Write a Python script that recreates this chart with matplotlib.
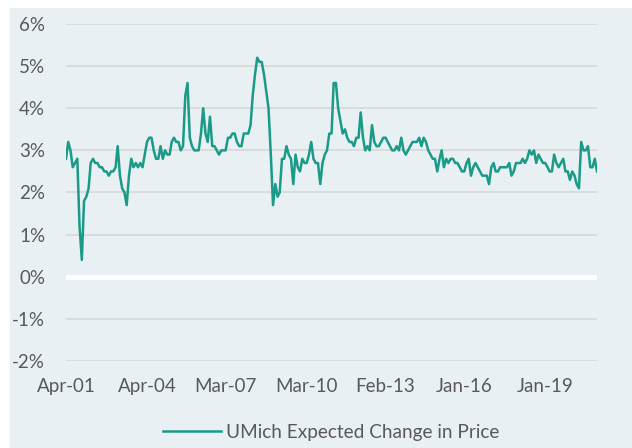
import numpy as np
import pandas as pd
import matplotlib
matplotlib.use("Agg")
import matplotlib.pyplot as plt
from matplotlib.patches import Rectangle

# monthly series, Apr-2001 .. Dec-2020
start_month = "2001-04-01"
expected_change = [
    2.8, 3.2, 3.0, 2.6, 2.7, 2.8, 1.2, 0.4, 1.8, 1.9,
    2.1, 2.7, 2.8, 2.7, 2.7, 2.6, 2.6, 2.5, 2.5, 2.4,
    2.5, 2.5, 2.6, 3.1, 2.4, 2.1, 2.0, 1.7, 2.4, 2.8,
    2.6, 2.7, 2.6, 2.7, 2.6, 2.9, 3.2, 3.3, 3.3, 3.0,
    2.8, 2.8, 3.1, 2.8, 3.0, 2.9, 2.9, 3.2, 3.3, 3.2,
    3.2, 3.0, 3.1, 4.3, 4.6, 3.3, 3.1, 3.0, 3.0, 3.0,
    3.4, 4.0, 3.4, 3.2, 3.8, 3.1, 3.1, 3.0, 2.9, 3.0,
    3.0, 3.0, 3.3, 3.3, 3.4, 3.4, 3.2, 3.1, 3.1, 3.4,
    3.4, 3.4, 3.6, 4.3, 4.8, 5.2, 5.1, 5.1, 4.8, 4.4,
    4.0, 2.9, 1.7, 2.2, 1.9, 2.0, 2.8, 2.8, 3.1, 2.9,
    2.8, 2.2, 2.9, 2.6, 2.5, 2.8, 2.7, 2.7, 2.9, 3.2,
    2.8, 2.7, 2.7, 2.2, 2.7, 2.9, 3.0, 3.4, 3.4, 4.6,
    4.6, 4.0, 3.7, 3.4, 3.5, 3.3, 3.2, 3.2, 3.1, 3.3,
    3.3, 3.9, 3.3, 3.0, 3.1, 3.0, 3.6, 3.2, 3.1, 3.1,
    3.2, 3.3, 3.3, 3.2, 3.1, 3.0, 3.0, 3.1, 3.0, 3.3,
    3.0, 2.9, 3.0, 3.1, 3.2, 3.2, 3.2, 3.3, 3.1, 3.3,
    3.2, 3.0, 2.9, 2.8, 2.8, 2.5, 2.8, 3.0, 2.6, 2.8,
    2.7, 2.8, 2.8, 2.7, 2.7, 2.6, 2.5, 2.5, 2.7, 2.8,
    2.4, 2.6, 2.7, 2.6, 2.5, 2.4, 2.4, 2.4, 2.2, 2.6,
    2.7, 2.5, 2.5, 2.6, 2.6, 2.6, 2.6, 2.7, 2.4, 2.5,
    2.7, 2.7, 2.7, 2.8, 2.7, 2.8, 3.0, 2.9, 3.0, 2.7,
    2.9, 2.8, 2.7, 2.7, 2.6, 2.5, 2.5, 2.9, 2.7, 2.6,
    2.7, 2.8, 2.5, 2.5, 2.3, 2.5, 2.4, 2.2, 2.1, 3.2,
    3.0, 3.0, 3.1, 2.6, 2.6, 2.8, 2.5,
]
series_name = "UMich Expected Change in Price"

tick_dates = ["2001-04-01", "2004-04-01", "2007-03-01", "2010-03-01",
              "2013-02-01", "2016-01-01", "2019-01-01"]
tick_labels = ["Apr-01", "Apr-04", "Mar-07", "Mar-10", "Feb-13", "Jan-16", "Jan-19"]
y_ticks = [-2, -1, 0, 1, 2, 3, 4, 5, 6]

dates = pd.date_range(start_month, periods=len(expected_change), freq="MS")

plt.rcParams["font.family"] = ["Lato", "DejaVu Sans"]
text_color = "#595959"
line_color = "#1b9a87"

W, H = 632, 448
fig = plt.figure(figsize=(W / 100, H / 100), dpi=100, facecolor="white")
panel = Rectangle((10 / W, 0), 1, (H - 8) / H, transform=fig.transFigure,
                  facecolor="#e8f0f3", edgecolor="none", zorder=-10)
fig.add_artist(panel)

ax = fig.add_axes([66 / W, 1 - 361 / H, (597 - 66) / W, (361 - 24) / H])
ax.set_zorder(1)
ax.set_facecolor("none")
for s in ax.spines.values():
    s.set_visible(False)

for v in y_ticks:
    if v == 0:
        ax.axhline(v, color="white", lw=3.6, zorder=1)
    else:
        ax.axhline(v, color="#d9d9d9", lw=1.3, zorder=1)

ax.plot(dates, expected_change, color=line_color, lw=1.8, zorder=3, label=series_name)

ax.set_xlim(dates[0], dates[-1])
ax.set_ylim(-2, 6)
ax.set_yticks(y_ticks)
ax.set_yticklabels([f"{v}%" for v in y_ticks])
ax.set_xticks(pd.to_datetime(tick_dates))
ax.set_xticklabels(tick_labels)
ax.tick_params(axis="both", length=0, labelsize=13.5, colors=text_color)
ax.tick_params(axis="y", pad=15)
ax.tick_params(axis="x", pad=12)

leg = ax.legend(loc="center", bbox_to_anchor=(0.5, -0.211), frameon=False,
                fontsize=13.7, handlelength=3.0, handletextpad=0.3)
for t in leg.get_texts():
    t.set_color(text_color)

fig.savefig("out.png", dpi=100, facecolor="white")
